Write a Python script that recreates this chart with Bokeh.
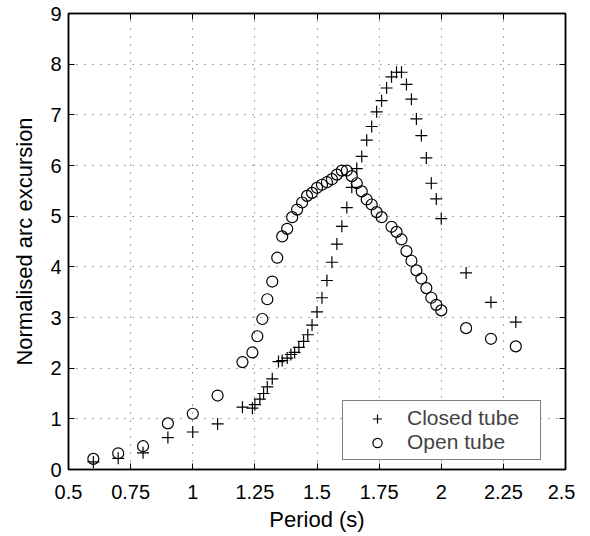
from bokeh.plotting import figure
from bokeh.models import Range1d, FixedTicker, LinearAxis, CustomJSTickFormatter, Legend, LegendItem
from bokeh.embed import file_html
from bokeh.resources import INLINE

# ---- data ----
closed_x = [0.6, 0.7, 0.8, 0.9, 1.0, 1.1, 1.2,
            1.24, 1.25, 1.27, 1.285, 1.30, 1.32,
            1.345, 1.36, 1.38, 1.395, 1.41, 1.427,
            1.446, 1.463, 1.48, 1.50, 1.52, 1.54,
            1.56, 1.58, 1.60, 1.62, 1.64, 1.66,
            1.68, 1.70, 1.72, 1.74, 1.76, 1.78,
            1.80, 1.82, 1.84, 1.86, 1.88, 1.90,
            1.92, 1.94, 1.96, 1.98, 2.0,
            2.1, 2.2, 2.3]
closed_y = [0.15, 0.22, 0.33, 0.63, 0.74, 0.90, 1.23,
            1.21, 1.28, 1.39, 1.50, 1.63, 1.79,
            2.13, 2.15, 2.20, 2.27, 2.31, 2.41,
            2.53, 2.66, 2.85, 3.11, 3.39, 3.73,
            4.09, 4.45, 4.80, 5.17, 5.57, 5.94,
            6.18, 6.50, 6.77, 7.06, 7.28, 7.53,
            7.75, 7.84, 7.84, 7.60, 7.31, 6.92,
            6.59, 6.15, 5.65, 5.34, 4.95,
            3.88, 3.30, 2.91]

open_x = [0.6, 0.7, 0.8, 0.9, 1.0, 1.1, 1.2,
          1.24, 1.26, 1.28, 1.30, 1.32, 1.34,
          1.36, 1.38, 1.40, 1.42, 1.44, 1.46,
          1.48, 1.50, 1.52, 1.54, 1.56, 1.58,
          1.60, 1.62, 1.64, 1.66, 1.68, 1.70,
          1.72, 1.74, 1.76, 1.80, 1.82, 1.84,
          1.86, 1.88, 1.90, 1.92, 1.94, 1.96,
          1.98, 2.0, 2.1, 2.2, 2.3]
open_y = [0.21, 0.32, 0.46, 0.91, 1.10, 1.46, 2.12,
          2.31, 2.63, 2.97, 3.36, 3.71, 4.18,
          4.60, 4.75, 4.98, 5.13, 5.27, 5.40,
          5.46, 5.56, 5.62, 5.67, 5.73, 5.82,
          5.90, 5.90, 5.79, 5.65, 5.49, 5.33,
          5.23, 5.08, 4.98, 4.79, 4.69, 4.54,
          4.31, 4.12, 3.93, 3.77, 3.58, 3.39,
          3.25, 3.14, 2.79, 2.58, 2.43]

x_ticks = [0.5, 0.75, 1.0, 1.25, 1.5, 1.75, 2.0, 2.25, 2.5]
x_tick_labels = ["0.5", "0.75", "1", "1.25", "1.5", "1.75", "2", "2.25", "2.5"]
y_ticks = [0, 1, 2, 3, 4, 5, 6, 7, 8, 9]
y_tick_labels = ["0", "1", "2", "3", "4", "5", "6", "7", "8", "9"]

FONT = "Liberation Sans"

p = figure(frame_width=497, frame_height=456, output_backend="svg", toolbar_location=None,
           x_range=Range1d(0.5, 2.5), y_range=Range1d(0, 9),
           min_border_left=68, min_border_right=10, min_border_top=13, min_border_bottom=0)
p.background_fill_color = "white"
p.border_fill_color = "white"
p.outline_line_color = "black"
p.outline_line_width = 1.5

def fmt(tvals, tlabels):
    return CustomJSTickFormatter(args=dict(tvals=tvals, tlabels=tlabels), code="""
        for (let i = 0; i < tvals.length; i++) {
            if (Math.abs(tvals[i] - tick) < 1e-9) return tlabels[i];
        }
        return '';
    """)

for ax in p.xaxis:
    ax.ticker = FixedTicker(ticks=x_ticks)
    ax.formatter = fmt(x_ticks, x_tick_labels)
    ax.axis_label = "Period (s)"
    ax.major_label_standoff = 15
    ax.axis_label_standoff = 5
for ax in p.yaxis:
    ax.ticker = FixedTicker(ticks=y_ticks)
    ax.formatter = fmt(y_ticks, y_tick_labels)
    ax.axis_label = "Normalised arc excursion"
    ax.major_label_standoff = 7
    ax.axis_label_standoff = 10

for ax in list(p.xaxis) + list(p.yaxis):
    ax.major_label_text_font = FONT
    ax.major_label_text_font_size = "20px"
    ax.major_label_text_color = "black"
    ax.axis_label_text_font = FONT
    ax.axis_label_text_font_size = "22px"
    ax.axis_label_text_font_style = "normal"
    ax.axis_label_text_color = "black"
    ax.axis_line_width = 1.5
    ax.axis_line_color = "black"
    ax.major_tick_in = 6
    ax.major_tick_out = 0
    ax.major_tick_line_color = "black"
    ax.minor_tick_line_color = None

# top and right axes for MATLAB-style box ticks (no labels)
blank = CustomJSTickFormatter(code="return '';")
top = LinearAxis(ticker=FixedTicker(ticks=x_ticks), formatter=blank,
                 major_label_standoff=0, major_tick_in=6, major_tick_out=0,
                 minor_tick_line_color=None, axis_line_width=1.5)
right = LinearAxis(ticker=FixedTicker(ticks=y_ticks), formatter=blank,
                   major_label_standoff=0, major_tick_in=6, major_tick_out=0,
                   minor_tick_line_color=None, axis_line_width=1.5)
p.add_layout(top, "above")
p.add_layout(right, "right")

for g in (p.xgrid, p.ygrid):
    g.grid_line_color = "black"
    g.grid_line_alpha = 0.7
    g.grid_line_dash = "1 7"
    g.grid_line_width = 1
p.xgrid.ticker = FixedTicker(ticks=x_ticks)
p.ygrid.ticker = FixedTicker(ticks=y_ticks)

r_closed = p.scatter(closed_x, closed_y, marker="cross", size=12, line_color="black", line_width=1.2)
r_open = p.scatter(open_x, open_y, marker="circle", size=11, fill_color=None, line_color="black", line_width=1.2)

legend = Legend(items=[LegendItem(label="Closed tube", renderers=[r_closed]),
                       LegendItem(label="Open tube", renderers=[r_open])],
                location=(274, 9), padding=5, spacing=0, margin=0,
                glyph_width=58, glyph_height=23, label_height=23, label_width=128,
                label_standoff=1,
                label_text_font=FONT, label_text_font_size="21px",
                border_line_color="black", border_line_width=1.5,
                background_fill_color="white", background_fill_alpha=1)
p.add_layout(legend, "center")

open("out.html", "w").write(file_html(p, INLINE))
